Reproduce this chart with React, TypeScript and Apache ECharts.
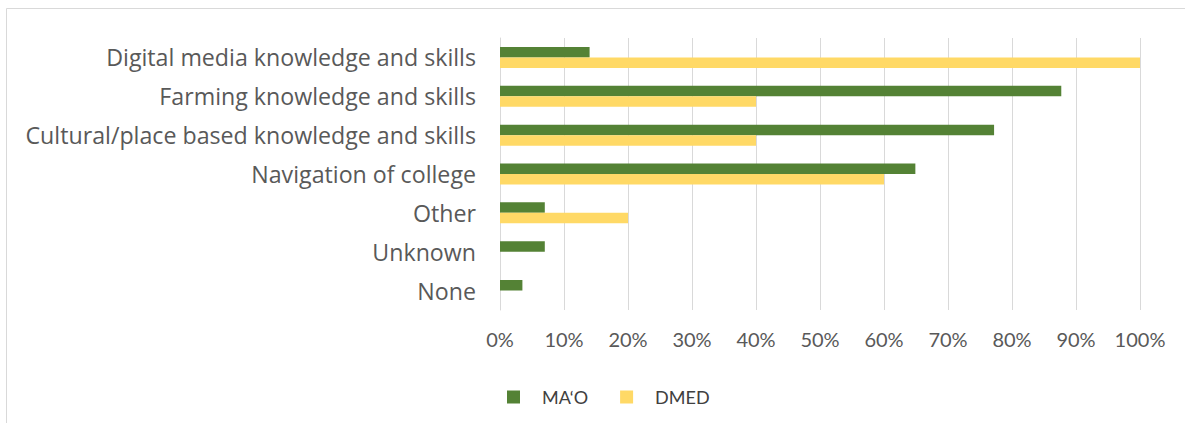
import React, { useEffect, useRef } from "react";
import * as echarts from "echarts";

const categories = [
  "Digital media knowledge and skills",
  "Farming knowledge and skills",
  "Cultural/place based knowledge and skills",
  "Navigation of college",
  "Other",
  "Unknown",
  "None",
];
const maoValues = [14.0, 87.7, 77.2, 64.9, 7.0, 7.0, 3.5];
const dmedValues = [100, 40, 40, 60, 20, 0, 0];
const xTicks = [0, 10, 20, 30, 40, 50, 60, 70, 80, 90, 100];

const FONT = "Lato";
const LABEL_FONT = "Open Sans";

export default function App() {
  const ref = useRef<HTMLDivElement>(null);
  useEffect(() => {
    if (!ref.current) return;
    const chart = echarts.init(ref.current, undefined, { renderer: "svg" });
    chart.setOption({
      animation: false,
      backgroundColor: "#ffffff",
      graphic: [
        {
          type: "rect",
          shape: { x: 6.5, y: 8.5, width: 1300, height: 600 },
          style: { fill: "none", stroke: "#d9d9d9", lineWidth: 1 },
          silent: true,
        },
      ],
      legend: {
        data: ["MA\u2018O", "DMED"],
        left: 507,
        top: 388,
        padding: 0,
        itemWidth: 13,
        itemHeight: 13,
        itemGap: 32,
        icon: "rect",
        textStyle: {
          fontFamily: FONT,
          fontSize: 18,
          color: "#404040",
          padding: [0, 0, 0, 17],
        },
      },
      grid: { left: 500, right: 45, top: 38, bottom: 113, containLabel: false },
      xAxis: {
        type: "value",
        min: 0,
        max: 100,
        interval: 10,
        axisLine: { show: false },
        axisTick: { show: false },
        splitLine: { show: true, lineStyle: { color: "#d9d9d9", width: 1 } },
        axisLabel: {
          formatter: (v: number) => (xTicks.includes(v) ? v + "%" : ""),
          fontFamily: FONT,
          fontSize: 20,
          color: "#595959",
          margin: 19,
        },
      },
      yAxis: {
        type: "category",
        data: categories,
        inverse: true,
        axisLine: { show: true, lineStyle: { color: "#d9d9d9", width: 1 } },
        axisTick: { show: false },
        axisLabel: {
          fontFamily: LABEL_FONT,
          fontSize: 23.2,
          color: "#595959",
          margin: 24,
        },
      },
      series: [
        {
          name: "MA\u2018O",
          type: "bar",
          data: maoValues,
          barWidth: 10.5,
          barGap: "0%",
          itemStyle: { color: "#548235" },
        },
        {
          name: "DMED",
          type: "bar",
          data: dmedValues,
          barWidth: 10.5,
          barGap: "0%",
          itemStyle: { color: "#FFD966" },
        },
      ],
    });
    return () => chart.dispose();
  }, []);
  return (
    <div
      ref={ref}
      style={{ position: "fixed", left: 0, top: 0, width: 1185, height: 423 }}
    />
  );
}
